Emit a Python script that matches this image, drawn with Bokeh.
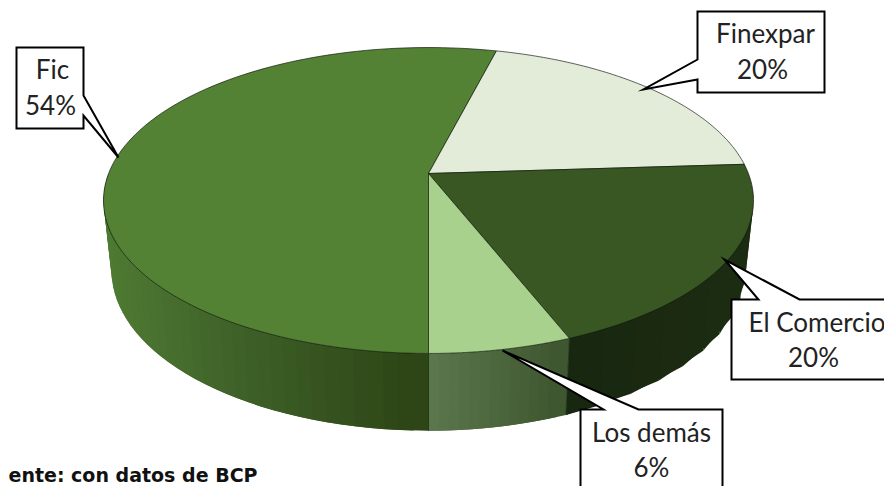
import numpy as np
from bokeh.plotting import figure
from bokeh.embed import file_html
from bokeh.resources import INLINE
from bokeh.core.properties import value

categories = ["Fic", "Finexpar", "El Comercio", "Los demás"]
shares = [54, 20, 20, 6]
top_colors = ["#548235", "#E2ECD9", "#385723", "#A9D18E"]
# side-wall shade at the start and end of each visible wall (by screen x)
side_stops = {
    "Fic": ([103, 250, 428], ["#4F7B33", "#3F6229", "#2E4616"]),
    "El Comercio": ([570, 750], ["#16240D", "#1C2C12"]),
    "Los demás": ([428, 570], ["#5F7B50", "#3F5730"]),
}
source_note = "ente: con datos de BCP"

W, H = 884, 486
p = figure(width=W, height=H, x_range=(0, W), y_range=(H, 0),
           output_backend="svg", toolbar_location=None, min_border=0,
           background_fill_color="white", border_fill_color="white",
           outline_line_color=None)
p.axis.visible = False
p.grid.visible = False

# perspective projection of the pie's disc
C = 0.1765
def project(theta, level):
    cx, cy, a, b = (428, 173, 319.9, 148.2) if level == "top" else (428, 242, 312, 155)
    t = np.radians(theta)
    d = 1 + C * np.cos(t)
    return cx + a * np.sin(t) / d, cy - b * np.cos(t) / d

bounds = 180 + np.concatenate([[0], np.cumsum(shares)]) * 3.6
spans = {c: (bounds[i], bounds[i + 1]) for i, c in enumerate(categories)}

def hex2rgb(h):
    return np.array([int(h[i:i + 2], 16) for i in (1, 3, 5)], float)

def shade(cat, x):
    xs, cols = side_stops[cat]
    rgb = [np.interp(x, xs, [hex2rgb(c)[k] for c in cols]) for k in range(3)]
    return "#%02x%02x%02x" % tuple(int(round(v)) for v in rgb)

# side walls: overlapping strips, painted from the far end so no seam shows
def wall(cat, a0, a1, n):
    ang = np.linspace(a0, a1, n + 1)
    step = ang[1] - ang[0]
    xs, ys, cs = [], [], []
    for s in ang[:-1]:
        e = min(s + step * 2, a1)
        tx0, ty0 = project(s, "top"); tx1, ty1 = project(e, "top")
        bx0, by0 = project(s, "bot"); bx1, by1 = project(e, "bot")
        xs.append([tx0, tx1, bx1, bx0]); ys.append([ty0, ty1, by1, by0])
        cs.append(shade(cat, tx0))
    p.patches(xs[::-1], ys[::-1], fill_color=cs[::-1], line_color=None)

wall("Fic", spans["Fic"][0], spans["Fic"][0] + 90, 40)
e0, e1 = spans["El Comercio"]
wall("El Comercio", e0, e1, 12)
d0, d1 = spans["Los demás"]
wall("Los demás", d0, d1, 14)

# outline of the bottom rim and wall seams
ang = np.linspace(e0, spans["Fic"][0] + 90, 200)
bx, by = project(ang, "bot")
p.line(bx, by, line_color="#1a2a10", line_width=0.8)
for a in (d0, d1):
    tx, ty = project(a, "top"); bx, by = project(a, "bot")
    p.line([tx, bx], [ty, by], line_color="#26391a", line_width=1)

# top faces
for i, c in enumerate(categories):
    a = np.linspace(bounds[i], bounds[i + 1], 120)
    x, y = project(a, "top")
    x = np.concatenate([[428], x]); y = np.concatenate([[173], y])
    p.patch(x, y, fill_color=top_colors[i], line_color="#10180a", line_width=0.8, line_alpha=0.85)

# callouts
callouts = {
    "Fic": [(16, 47), (83, 47), (83, 95), (118, 157), (83, 115), (83, 128), (16, 128)],
    "Finexpar": [(697, 11), (824, 11), (824, 92), (697, 92), (697, 79), (643, 89), (697, 59)],
    "El Comercio": [(731, 299), (758, 299), (724, 259), (799, 299), (900, 299), (900, 379), (731, 379)],
    "Los demás": [(580, 409), (603, 409), (502, 350), (638, 409), (722, 409), (722, 500), (580, 500)],
}
for c in categories:
    xs, ys = zip(*callouts[c])
    p.patch(list(xs), list(ys), fill_color="white", line_color="black", line_width=2, line_join="miter")

font = value("Lato")
def label(x, y, s, align="center", size="26px", style="normal"):
    p.text([x], [y], text=[s], text_font=font, text_font_size=size, text_align=align,
           text_baseline="middle", text_color="#222222", text_font_style=style)

names_xy = {"Fic": (52, 68, "center"), "Finexpar": (765, 32, "center"),
            "El Comercio": (748, 321, "left"), "Los demás": (651, 431, "center")}
pct_xy = {"Fic": (50, 104), "Finexpar": (762, 68), "El Comercio": (813, 356), "Los demás": (651, 466)}
for c, s in zip(categories, shares):
    nx, ny, al = names_xy[c]
    label(nx, ny, c, al)
    px, py = pct_xy[c]
    label(px, py, f"{s}%")

p.text([257], [474], text=[source_note], text_font=value("DejaVu Sans"), text_font_size="19px", text_align="right",
       text_baseline="middle", text_color="#111111", text_font_style="bold")

open("out.html", "w").write(file_html(p, INLINE))
